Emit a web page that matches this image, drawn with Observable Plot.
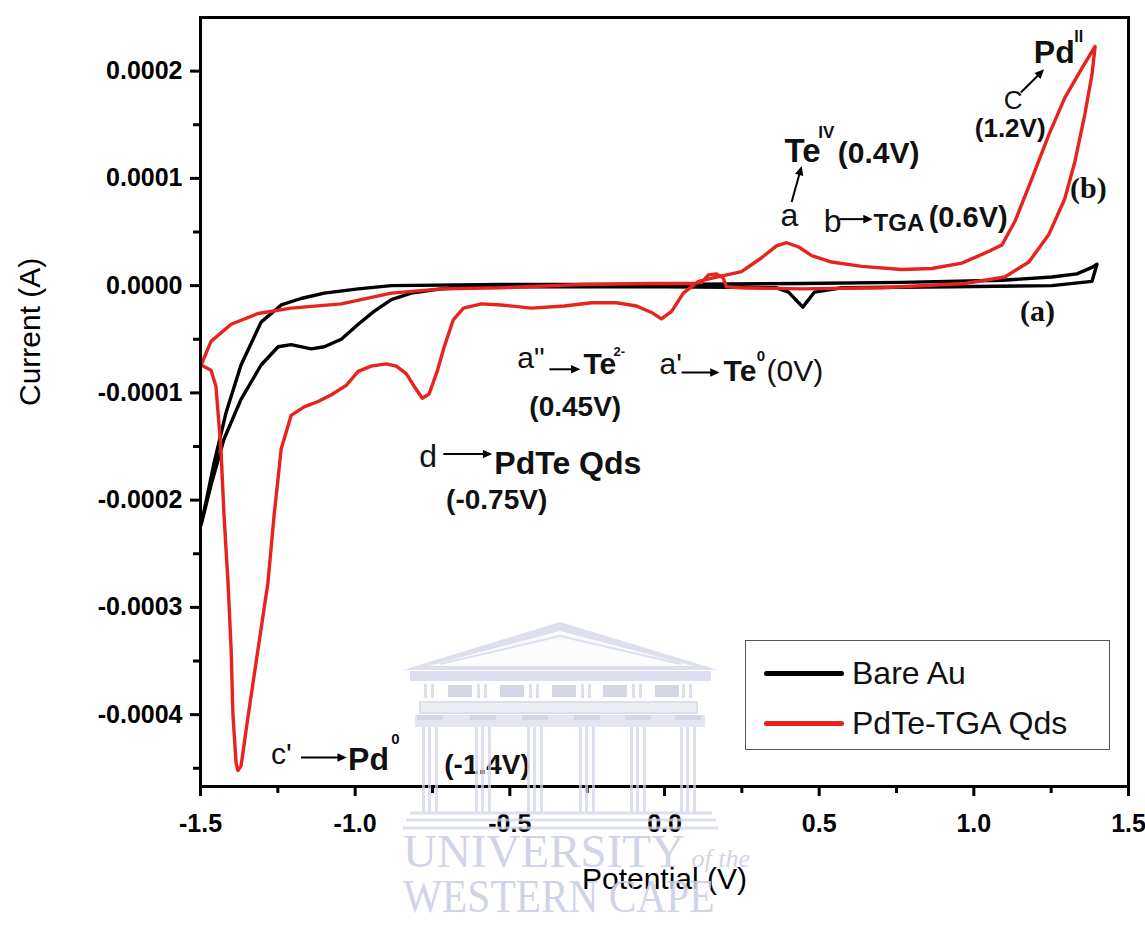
<!DOCTYPE html>
<html><head><meta charset="utf-8">
<script src="https://cdn.jsdelivr.net/npm/d3@7"></script>
<script src="https://cdn.jsdelivr.net/npm/@observablehq/plot@0.6"></script>
<style>
body{margin:0;background:#fff;}
#wrap{position:relative;width:1145px;height:927px;overflow:hidden;font-family:'Liberation Sans',Arial,sans-serif;}
#legend{position:absolute;left:745px;top:640px;width:365px;height:110px;box-sizing:border-box;border:1.5px solid #555;background:#fff;}
.lrow{position:absolute;left:18px;height:40px;display:flex;align-items:center;font-size:32px;color:#111;}
.lrow span.sw{display:inline-block;width:80px;height:5px;border-radius:3px;margin-right:8px;}
.wm{position:absolute;font-family:'Liberation Serif','DejaVu Serif',serif;color:#cdd0e5;white-space:nowrap;line-height:1;pointer-events:none;opacity:0.9;}
#bldg{position:absolute;left:0;top:0;pointer-events:none;opacity:0.75;}
</style></head><body><div id="wrap"></div>
<script>
// ---- data (potential in V, current in microamps) ----
const bareV = [-1.498,-1.476,-1.456,-1.417,-1.369,-1.304,-1.239,-1.175,-1.100,-0.990,-0.883,-0.528,0.000,0.443,0.767,1.091,1.252,1.333,1.382,1.398,1.382,1.252,0.929,0.573,0.485,0.447,0.401,0.362,0.000,-0.366,-0.560,-0.722,-0.819,-0.883,-0.939,-0.990,-1.045,-1.100,-1.142,-1.207,-1.249,-1.304,-1.369,-1.424,-1.466,-1.498];
const bareI = [-223,-193,-165,-118,-74,-34,-18,-12,-7,-3,0,1,1,2,3,5,8,11,17,20,4,0,-1,-2,-6,-20,-6,-2,-1,-1,-1,-3,-7,-13,-24,-36,-50,-57,-59,-55,-57,-74,-106,-143,-186,-223];

const qdsV = [-1.498,-1.466,-1.450,-1.434,-1.424,-1.411,-1.401,-1.395,-1.385,-1.379,-1.369,-1.346,-1.314,-1.282,-1.262,-1.239,-1.207,-1.165,-1.120,-1.078,-1.029,-0.990,-0.948,-0.900,-0.867,-0.835,-0.809,-0.783,-0.761,-0.735,-0.712,-0.683,-0.650,-0.592,-0.528,-0.430,-0.324,-0.236,-0.155,-0.091,-0.042,-0.010,0.023,0.061,0.110,0.168,0.249,0.314,0.362,0.395,0.434,0.476,0.540,0.638,0.767,0.864,0.961,1.049,1.091,1.133,1.188,1.243,1.294,1.350,1.392,1.382,1.359,1.327,1.294,1.243,1.178,1.100,0.971,0.702,0.443,0.249,0.200,0.190,0.168,0.142,0.120,0.087,-0.042,-0.269,-0.528,-0.722,-0.883,-1.045,-1.207,-1.314,-1.401,-1.466,-1.498];
const qdsI = [-74,-79,-94,-152,-214,-277,-339,-401,-445,-452,-448,-401,-339,-277,-214,-152,-121,-113,-108,-102,-93,-80,-75,-73,-75,-82,-94,-105,-101,-80,-57,-32,-21,-17,-18,-21,-19,-16,-16,-19,-25,-31,-24,-7,4,8,13,26,37,40,36,28,22,18,15,16,21,32,38,60,100,141,175,203,223,197,160,116,81,48,22,8,2,-2,-3,-2,-1,7,11,10,3,2,2,1,-2,-3,-7,-17,-21,-26,-36,-52,-74];

const seriesNames = ["Bare Au", "PdTe-TGA Qds"];
const seriesColors = ["#000000", "#e8231d"];

const xMajor = [-1.5,-1.0,-0.5,0.0,0.5,1.0,1.5];
const xMinor = [-1.25,-0.75,-0.25,0.25,0.75,1.25];
const yMajor = [-0.0004,-0.0003,-0.0002,-0.0001,0,0.0001,0.0002];
const yMinor = [-0.00045,-0.00035,-0.00025,-0.00015,-0.00005,0.00005,0.00015];

// annotations (anchor at left edge, vertical centre; V and microamps)
const notesBold = [
  {t:"Te", v:0.388, i:125, s:33}, {t:"IV", v:0.497, i:143, s:17}, {t:"(0.4V)", v:0.560, i:123, s:30},
  {t:"TGA", v:0.676, i:58, s:24}, {t:"(0.6V)", v:0.854, i:63, s:29},
  {t:"Pd", v:1.194, i:217, s:32}, {t:"II", v:1.325, i:232, s:16}, {t:"(1.2V)", v:1.003, i:146, s:26},
  {t:"Te", v:-0.262, i:-73, s:30}, {t:"2-", v:-0.165, i:-62, s:13}, {t:"(0.45V)", v:-0.437, i:-113, s:28},
  {t:"Te", v:0.191, i:-80, s:30}, {t:"0", v:0.298, i:-66, s:15},
  {t:"PdTe Qds", v:-0.550, i:-166, s:32}, {t:"(-0.75V)", v:-0.706, i:-200, s:28},
  {t:"Pd", v:-1.023, i:-442, s:32}, {t:"0", v:-0.883, i:-423, s:15}, {t:"(-1.4V)", v:-0.712, i:-447, s:28}
];
const notesNormal = [
  {t:"a", v:0.375, i:65, s:32}, {t:"b", v:0.515, i:60, s:32}, {t:"C", v:1.097, i:172, s:26},
  {t:"a\"", v:-0.476, i:-68, s:30}, {t:"a'", v:-0.016, i:-73, s:30}, {t:"(0V)", v:0.330, i:-80, s:30},
  {t:"d", v:-0.793, i:-160, s:32}, {t:"c'", v:-1.272, i:-437, s:30}
];
const notesSerif = [
  {t:"(b)", v:1.311, i:91, s:30}, {t:"(a)", v:1.149, i:-24, s:30}
];
const arrows = [
  {v1:0.411, i1:78, v2:0.440, i2:108},
  {v1:0.566, i1:62, v2:0.660, i2:62},
  {v1:1.152, i1:180, v2:1.218, i2:199},
  {v1:-0.372, i1:-78, v2:-0.285, i2:-78},
  {v1:0.055, i1:-81, v2:0.165, i2:-81},
  {v1:-0.715, i1:-157, v2:-0.570, i2:-157},
  {v1:-1.175, i1:-440, v2:-1.040, i2:-440}
];

// ---- build ----
const uA = 1e-6;
const bare = bareV.map((v, k) => ({v, i: bareI[k] * uA}));
const qds = qdsV.map((v, k) => ({v, i: qdsI[k] * uA}));
const toA = arr => arr.map(d => ({...d, i: d.i * uA}));
const arrowsA = arrows.map(d => ({...d, i1: d.i1 * uA, i2: d.i2 * uA}));

const plot = Plot.plot({
  width: 1145, height: 927,
  marginLeft: 200, marginRight: 17, marginTop: 17, marginBottom: 141,
  x: {domain: [-1.5, 1.5]},
  y: {domain: [-0.000467, 0.00025]},
  style: {fontFamily: "'Liberation Sans', Arial, sans-serif", background: "white", color: "black", overflow: "visible"},
  marks: [
    Plot.axisX(xMajor, {tickSize: 10, tickPadding: 18, tickFormat: d => d.toFixed(1), fontSize: 25, fontWeight: "bold", strokeWidth: 3, label: null}),
    Plot.axisX(xMinor, {tickSize: 7, tickFormat: () => "", strokeWidth: 3, label: null}),
    Plot.axisY(yMajor, {tickSize: 10, tickPadding: 8, tickFormat: d => d.toFixed(4), fontSize: 25, fontWeight: "bold", strokeWidth: 3, label: null}),
    Plot.axisY(yMinor, {tickSize: 7, tickFormat: () => "", strokeWidth: 3, label: null}),
    Plot.text([0], {frameAnchor: "left", dx: -170, dy: 4, rotate: -90, text: () => "Current (A)", fontSize: 30}),
    Plot.text([0], {frameAnchor: "bottom", dy: 102, text: () => "Potential (V)", fontSize: 30}),
    Plot.line(bare, {x: "v", y: "i", stroke: seriesColors[0], strokeWidth: 3.4, strokeLinejoin: "round"}),
    Plot.line(qds, {x: "v", y: "i", stroke: seriesColors[1], strokeWidth: 3.4, strokeLinejoin: "round"}),
    Plot.link(arrowsA, {x1: "v1", y1: "i1", x2: "v2", y2: "i2", stroke: "black", strokeWidth: 2, markerEnd: "arrow"}),
    Plot.text(toA(notesBold), {x: "v", y: "i", text: "t", fontSize: "s", fontWeight: "bold", textAnchor: "start", fill: "#111"}),
    Plot.text(toA(notesNormal), {x: "v", y: "i", text: "t", fontSize: "s", textAnchor: "start", fill: "#111"}),
    Plot.text(toA(notesSerif), {x: "v", y: "i", text: "t", fontSize: "s", fontWeight: "bold", textAnchor: "start", fontFamily: "'Liberation Serif', 'Times New Roman', serif", fill: "#111"}),
    Plot.frame({strokeWidth: 3})
  ]
});

// filled arrow heads
plot.querySelectorAll("marker").forEach(m => {
  m.setAttribute("fill", "black");
  m.setAttribute("stroke", "none");
  const p = m.querySelector("path");
  if (p) p.setAttribute("d", "M-4,-3.2L3,0L-4,3.2Z");
});

const wrap = document.getElementById("wrap");
wrap.appendChild(plot);

// legend
const legend = document.createElement("div");
legend.id = "legend";
seriesNames.forEach((name, k) => {
  const row = document.createElement("div");
  row.className = "lrow";
  row.style.top = (12 + k * 50) + "px";
  row.innerHTML = `<span class="sw" style="background:${seriesColors[k]}"></span>${name}`;
  legend.appendChild(row);
});
wrap.appendChild(legend);

// watermark (decorative)
const NS = "http://www.w3.org/2000/svg";
const b = document.createElementNS(NS, "svg");
b.setAttribute("id", "bldg");
b.setAttribute("width", 1145); b.setAttribute("height", 927);
const light = "#d2d5ea", mid = "#c6c9e1";
function el(tag, attrs) { const e = document.createElementNS(NS, tag); for (const k in attrs) e.setAttribute(k, attrs[k]); b.appendChild(e); return e; }
el("polygon", {points: "403,670 560,622 718,670", fill: light});
el("polygon", {points: "428,666 560,631 693,666", fill: "white", opacity: 0.9});
el("polyline", {points: "440,664 560,636 681,664", fill: "none", stroke: light, "stroke-width": 2});
el("rect", {x: 410, y: 671, width: 301, height: 10, fill: light});
const cols = [430, 483, 535, 587, 638, 688];
cols.forEach(c => {
  el("rect", {x: c - 6, y: 684, width: 3, height: 14, fill: light});
  el("rect", {x: c + 1, y: 684, width: 3, height: 14, fill: light});
});
[448, 500, 552, 603, 655].forEach(x => el("rect", {x, y: 685, width: 24, height: 12, fill: mid}));
el("rect", {x: 420, y: 702, width: 277, height: 11, fill: "#e6e8f3", stroke: light, "stroke-width": 2});
el("rect", {x: 415, y: 715, width: 290, height: 12, fill: "#dcdfee"});
cols.forEach(c => {
  el("rect", {x: c - 13, y: 715, width: 26, height: 5, fill: mid});
  [-8, -2, 5].forEach(o => el("rect", {x: c + o, y: 727, width: 3, height: 86, fill: light}));
});
[[410, 813, 712], [406, 820, 716], [403, 828, 718]].forEach(([x1, y, x2]) =>
  el("line", {x1, x2, y1: y, y2: y, stroke: light, "stroke-width": 3}));
wrap.appendChild(b);

const wm1 = document.createElement("div");
wm1.className = "wm";
wm1.style.cssText = "left:403px;top:828px;font-size:47px;";
wm1.innerHTML = "UNIVERSITY<span style='font-size:26px;font-style:italic'> of the</span>";
wrap.appendChild(wm1);
const wm2 = document.createElement("div");
wm2.className = "wm";
wm2.style.cssText = "left:403px;top:874px;font-size:46px;transform:scaleX(0.9);transform-origin:left top;";
wm2.textContent = "WESTERN CAPE";
wrap.appendChild(wm2);
</script></body></html>
